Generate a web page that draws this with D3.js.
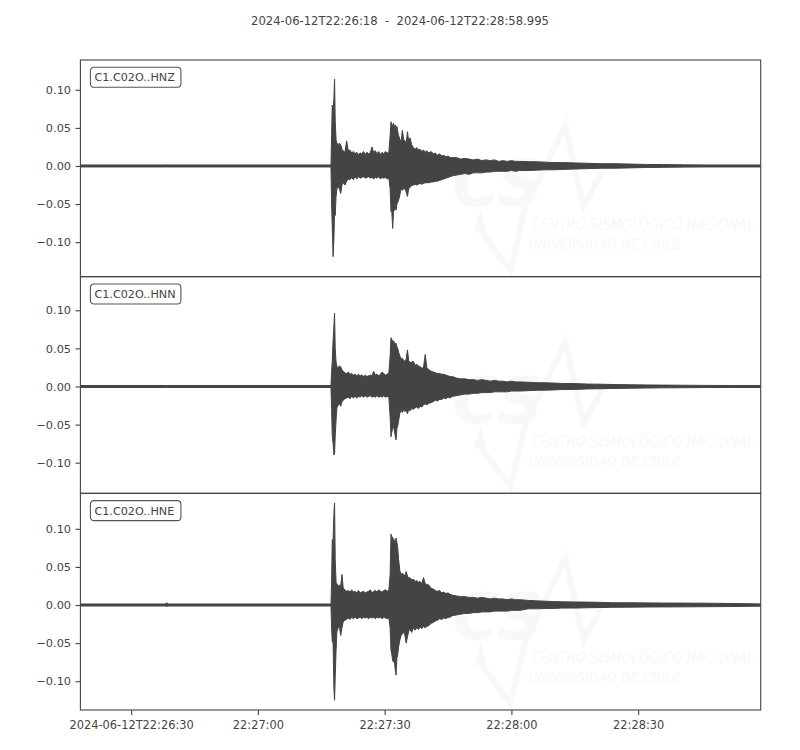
<!DOCTYPE html>
<html><head><meta charset="utf-8">
<script src="https://cdn.jsdelivr.net/npm/d3@7"></script>
<style>
body{margin:0;background:#fff}
text{font-family:"DejaVu Sans",sans-serif}
</style>
</head><body>
<svg id="chart" width="800" height="750"></svg>
<script>
// ---- data ----
const startTime = "2024-06-12T22:26:18Z";
const endTime = "2024-06-12T22:28:58.995Z";
const titleText = "2024-06-12T22:26:18  -  2024-06-12T22:28:58.995";
const channelLabels = ["C1.C02O..HNZ", "C1.C02O..HNN", "C1.C02O..HNE"];

// sample times, seconds after start
const timeSec = [0,20.1,20.4,20.7,59.1,
 59.3,59.45,59.6,59.8,60.0,60.15,60.3,60.5,60.7,61.0,61.3,61.6,61.9,62.2,
 62.6,63.0,63.4,63.8,64.2,64.6,65.0,65.4,65.8,66.2,66.6,67.0,67.4,67.8,68.2,68.6,69.0,69.4,69.8,70.2,70.6,71.0,71.4,71.8,72.2,72.6,73.0,
 73.3,73.5,73.7,73.9,74.1,74.3,74.5,74.7,74.9,75.1,75.3,75.6,75.9,76.2,76.5,76.8,77.1,77.4,77.7,78.0,
 78.4,78.8,79.2,79.6,80.0,80.4,80.8,81.2,81.6,82.0,82.5,83.0,83.5,84.0,84.5,85.0,85.5,86.0,86.5,87.0,87.5,88.0,
 89,90,91,92,93,94,95,96,97,98,99,100,101,102,103,104,
 106,108,110,112,114,117,120,123,126,130,134,138,143,148,154,161];

const hnzUpper = [0.0013,0.0013,0.0015,0.0013,0.0013,
 0.0013,0.040,0.080,0.070,0.090,0.114,0.060,0.034,0.030,0.028,0.030,0.028,0.022,0.020,
 0.018,0.033,0.020,0.021,0.017,0.019,0.016,0.018,0.015,0.017,0.016,0.019,0.015,0.018,0.016,0.017,0.025,0.018,0.020,0.016,0.019,0.015,0.018,0.016,0.019,0.017,0.018,
 0.040,0.058,0.055,0.052,0.056,0.050,0.054,0.048,0.052,0.045,0.040,0.035,0.032,0.047,0.035,0.033,0.030,0.045,0.032,0.037,
 0.028,0.024,0.022,0.024,0.021,0.022,0.019,0.021,0.018,0.020,0.017,0.019,0.016,0.017,0.014,0.016,0.013,0.014,0.012,0.013,0.011,0.011,
 0.011,0.009,0.010,0.009,0.008,0.009,0.007,0.008,0.007,0.008,0.006,0.007,0.006,0.007,0.006,0.006,
 0.0057,0.0055,0.005,0.0045,0.0045,0.004,0.0035,0.003,0.003,0.0025,0.002,0.0018,0.0015,0.0013,0.0013,0.0013];
const hnzLower = [-0.0013,-0.0013,-0.0013,-0.0013,-0.0013,
 -0.0013,-0.050,-0.080,-0.119,-0.095,-0.060,-0.065,-0.040,-0.030,-0.028,-0.030,-0.036,-0.025,-0.022,
 -0.025,-0.020,-0.017,-0.018,-0.015,-0.018,-0.014,-0.017,-0.014,-0.016,-0.015,-0.014,-0.016,-0.015,-0.014,-0.016,-0.015,-0.017,-0.015,-0.016,-0.014,-0.017,-0.015,-0.016,-0.015,-0.017,-0.016,
 -0.030,-0.060,-0.060,-0.082,-0.060,-0.058,-0.055,-0.058,-0.050,-0.048,-0.045,-0.038,-0.030,-0.032,-0.030,-0.030,-0.034,-0.040,-0.030,-0.028,
 -0.026,-0.025,-0.024,-0.025,-0.024,-0.023,-0.024,-0.023,-0.022,-0.022,-0.022,-0.021,-0.021,-0.020,-0.020,-0.019,-0.018,-0.017,-0.016,-0.015,-0.014,-0.013,
 -0.012,-0.011,-0.010,-0.011,-0.009,-0.009,-0.009,-0.008,-0.008,-0.007,-0.007,-0.007,-0.007,-0.006,-0.007,-0.006,
 -0.006,-0.0055,-0.005,-0.005,-0.0045,-0.004,-0.0035,-0.003,-0.003,-0.0025,-0.002,-0.0018,-0.0015,-0.0013,-0.0013,-0.0013];

const hnnUpper = [0.0013,0.0013,0.0013,0.0013,0.0013,
 0.0013,0.020,0.033,0.060,0.080,0.096,0.050,0.032,0.026,0.025,0.027,0.026,0.022,0.020,
 0.018,0.017,0.019,0.016,0.017,0.015,0.016,0.014,0.016,0.014,0.015,0.013,0.015,0.013,0.014,0.015,0.014,0.020,0.015,0.016,0.014,0.016,0.019,0.017,0.015,0.016,0.018,
 0.040,0.064,0.062,0.058,0.060,0.058,0.055,0.057,0.052,0.050,0.045,0.040,0.036,0.037,0.034,0.033,0.036,0.048,0.034,0.031,
 0.032,0.033,0.028,0.029,0.027,0.026,0.024,0.025,0.042,0.024,0.022,0.020,0.019,0.018,0.017,0.017,0.016,0.016,0.015,0.014,0.013,0.013,
 0.011,0.010,0.010,0.009,0.009,0.008,0.009,0.008,0.007,0.008,0.007,0.007,0.006,0.007,0.006,0.006,
 0.0055,0.005,0.0048,0.0045,0.004,0.0038,0.0032,0.003,0.0026,0.0023,0.002,0.0018,0.0016,0.0014,0.0013,0.0013];
const hnnLower = [-0.0013,-0.0013,-0.0013,-0.0013,-0.0013,
 -0.0013,-0.030,-0.064,-0.075,-0.090,-0.088,-0.065,-0.045,-0.028,-0.025,-0.022,-0.026,-0.020,-0.018,
 -0.016,-0.015,-0.014,-0.016,-0.013,-0.015,-0.013,-0.015,-0.013,-0.014,-0.012,-0.014,-0.012,-0.014,-0.013,-0.012,-0.014,-0.013,-0.014,-0.012,-0.014,-0.013,-0.014,-0.012,-0.014,-0.013,-0.014,
 -0.040,-0.066,-0.060,-0.055,-0.052,-0.058,-0.065,-0.070,-0.055,-0.052,-0.045,-0.035,-0.032,-0.034,-0.030,-0.033,-0.031,-0.036,-0.030,-0.032,
 -0.029,-0.030,-0.028,-0.027,-0.029,-0.026,-0.027,-0.024,-0.023,-0.024,-0.022,-0.021,-0.020,-0.018,-0.019,-0.017,-0.017,-0.015,-0.016,-0.014,-0.015,-0.013,
 -0.012,-0.011,-0.010,-0.010,-0.009,-0.009,-0.008,-0.008,-0.008,-0.007,-0.007,-0.007,-0.007,-0.006,-0.006,-0.006,
 -0.0055,-0.005,-0.0048,-0.0045,-0.004,-0.0038,-0.0032,-0.003,-0.0026,-0.0023,-0.002,-0.0018,-0.0016,-0.0014,-0.0013,-0.0013];

const hneUpper = [0.0013,0.0013,0.003,0.0013,0.0013,
 0.0013,0.030,0.086,0.085,0.120,0.134,0.060,0.030,0.028,0.025,0.026,0.025,0.040,0.022,
 0.020,0.018,0.019,0.017,0.020,0.017,0.018,0.016,0.019,0.016,0.017,0.018,0.016,0.017,0.018,0.020,0.016,0.018,0.019,0.017,0.020,0.018,0.017,0.019,0.020,0.018,0.020,
 0.040,0.093,0.090,0.088,0.087,0.085,0.080,0.088,0.082,0.075,0.060,0.045,0.040,0.042,0.040,0.038,0.044,0.038,0.035,0.036,
 0.033,0.034,0.031,0.032,0.030,0.031,0.028,0.036,0.028,0.027,0.026,0.022,0.021,0.019,0.018,0.019,0.016,0.017,0.015,0.016,0.014,0.013,
 0.012,0.011,0.011,0.010,0.010,0.009,0.010,0.009,0.008,0.009,0.008,0.008,0.007,0.008,0.007,0.007,
 0.006,0.0055,0.005,0.0045,0.0042,0.004,0.0038,0.0035,0.003,0.003,0.0028,0.0026,0.0025,0.0024,0.002,0.0015];
const hneLower = [-0.0013,-0.0013,-0.002,-0.0013,-0.0013,
 -0.0013,-0.030,-0.048,-0.050,-0.110,-0.125,-0.095,-0.060,-0.035,-0.030,-0.028,-0.040,-0.030,-0.022,
 -0.020,-0.019,-0.017,-0.019,-0.016,-0.018,-0.016,-0.018,-0.017,-0.016,-0.018,-0.016,-0.017,-0.016,-0.018,-0.016,-0.017,-0.016,-0.018,-0.016,-0.017,-0.016,-0.018,-0.016,-0.017,-0.018,-0.017,
 -0.030,-0.059,-0.065,-0.073,-0.075,-0.072,-0.085,-0.092,-0.070,-0.065,-0.055,-0.046,-0.040,-0.038,-0.035,-0.040,-0.050,-0.042,-0.034,-0.032,
 -0.036,-0.030,-0.033,-0.030,-0.032,-0.029,-0.031,-0.028,-0.030,-0.028,-0.027,-0.024,-0.023,-0.021,-0.020,-0.018,-0.019,-0.017,-0.018,-0.016,-0.016,-0.014,
 -0.013,-0.012,-0.011,-0.011,-0.010,-0.010,-0.009,-0.009,-0.009,-0.008,-0.008,-0.008,-0.008,-0.007,-0.007,-0.007,
 -0.005,-0.005,-0.0045,-0.0045,-0.004,-0.004,-0.0036,-0.0033,-0.003,-0.0028,-0.0026,-0.0025,-0.0024,-0.0022,-0.002,-0.0015];

const yTickValues = [-0.10, -0.05, 0.00, 0.05, 0.10];
const xTickTimes = ["2024-06-12T22:26:30Z","2024-06-12T22:27:00Z","2024-06-12T22:27:30Z","2024-06-12T22:28:00Z","2024-06-12T22:28:30Z"];
const xTickLabels = ["2024-06-12T22:26:30","22:27:00","22:27:30","22:28:00","22:28:30"];

// ---- layout ----
const W = 800, H = 750;
const plotLeft = 80.4, plotRight = 760.7, plotTop = 60, plotBottom = 710;
const panelH = (plotBottom - plotTop) / 3;
const yDomains = [[-0.1453, 0.1391], [-0.1402, 0.1441], [-0.1378, 0.1466]];
const ink = "#444444";
const wmColor = "#f8f8f8";

const channels = [
  {label: channelLabels[0], up: hnzUpper, lo: hnzLower},
  {label: channelLabels[1], up: hnnUpper, lo: hnnLower},
  {label: channelLabels[2], up: hneUpper, lo: hneLower}
];

const svg = d3.select("#chart");
svg.append("rect").attr("width", W).attr("height", H).attr("fill", "#fff");

const t0 = new Date(startTime);
const x = d3.scaleUtc().domain([t0, new Date(endTime)]).range([plotLeft, plotRight]);
const tDate = s => new Date(t0.getTime() + s * 1000);

svg.append("text").attr("x", W / 2).attr("y", 24.5).attr("text-anchor", "middle")
  .attr("font-size", 11.6).attr("fill", ink).style("white-space", "pre").text(titleText);

const defs = svg.append("defs");
const fmt = v => d3.format(".2f")(v).replace("-", "\u2212");

channels.forEach((ch, i) => {
  const top = plotTop + i * panelH, bot = top + panelH;
  const y = d3.scaleLinear().domain(yDomains[i]).range([bot, top]);
  const g = svg.append("g");

  defs.append("clipPath").attr("id", "clip" + i).append("rect")
    .attr("x", plotLeft).attr("y", top).attr("width", plotRight - plotLeft).attr("height", panelH);

  // faint watermark
  const wm = g.append("g").attr("transform", `translate(${plotLeft},${top})`).attr("fill", wmColor);
  wm.append("text").attr("x", 372).attr("y", 146).attr("font-size", 64).attr("font-weight", "bold")
    .attr("font-style", "italic").text("CS");
  wm.append("polyline").attr("points", "396,172 400,160 404,176 430,210 445,147 485,65 503,147 523,110")
    .attr("fill", "none").attr("stroke", wmColor).attr("stroke-width", 6);
  wm.append("text").attr("x", 451).attr("y", 170).attr("font-size", 15).attr("font-style", "italic")
    .attr("textLength", 223).attr("lengthAdjust", "spacingAndGlyphs").text("CENTRO SISMOLÓGICO NACIONAL");
  wm.append("text").attr("x", 448).attr("y", 189).attr("font-size", 14).attr("font-style", "italic")
    .attr("textLength", 152).attr("lengthAdjust", "spacingAndGlyphs").text("UNIVERSIDAD DE CHILE");

  // waveform envelope
  const pts = timeSec.map((s, k) => ({t: tDate(s), u: ch.up[k], l: ch.lo[k]}));
  const area = d3.area().x(d => x(d.t)).y0(d => y(d.l)).y1(d => y(d.u));
  g.append("path").datum(pts).attr("d", area).attr("fill", ink).attr("stroke", ink)
    .attr("stroke-width", 1).attr("stroke-linejoin", "round").attr("clip-path", `url(#clip${i})`);

  // frame
  g.append("rect").attr("x", plotLeft).attr("y", top).attr("width", plotRight - plotLeft).attr("height", panelH)
    .attr("fill", "none").attr("stroke", ink).attr("stroke-width", 1.1);

  // y axis
  const yAxis = d3.axisLeft(y).tickValues(yTickValues).tickFormat(fmt).tickSize(4.9).tickPadding(4.5);
  const ya = g.append("g").attr("transform", `translate(${plotLeft},0)`).call(yAxis);
  ya.select(".domain").remove();
  ya.selectAll("line").attr("stroke", ink).attr("stroke-width", 1.1);
  ya.selectAll("text").attr("fill", ink).attr("font-size", 11.3).attr("font-family", "DejaVu Sans");

  // channel label box
  const lb = g.append("g").attr("transform", `translate(${plotLeft + 10},${top + 7.3})`);
  lb.append("rect").attr("x", 0).attr("y", 0).attr("width", 90.5).attr("height", 20).attr("rx", 3.5)
    .attr("fill", "#fff").attr("stroke", "#555").attr("stroke-width", 1.1);
  lb.append("text").attr("x", 4).attr("y", 14).attr("font-size", 11.2).attr("fill", ink).text(ch.label);

  if (i === 2) {
    const xAxis = d3.axisBottom(x).tickValues(xTickTimes.map(s => new Date(s)))
      .tickFormat((d, k) => xTickLabels[k]).tickSize(4.9).tickPadding(6.5);
    const xa = g.append("g").attr("transform", `translate(0,${bot})`).call(xAxis);
    xa.select(".domain").remove();
    xa.selectAll("line").attr("stroke", ink).attr("stroke-width", 1.1);
    xa.selectAll("text").attr("fill", ink).attr("font-size", 11.4).attr("font-family", "DejaVu Sans");
  }
});
</script>
</body></html>
